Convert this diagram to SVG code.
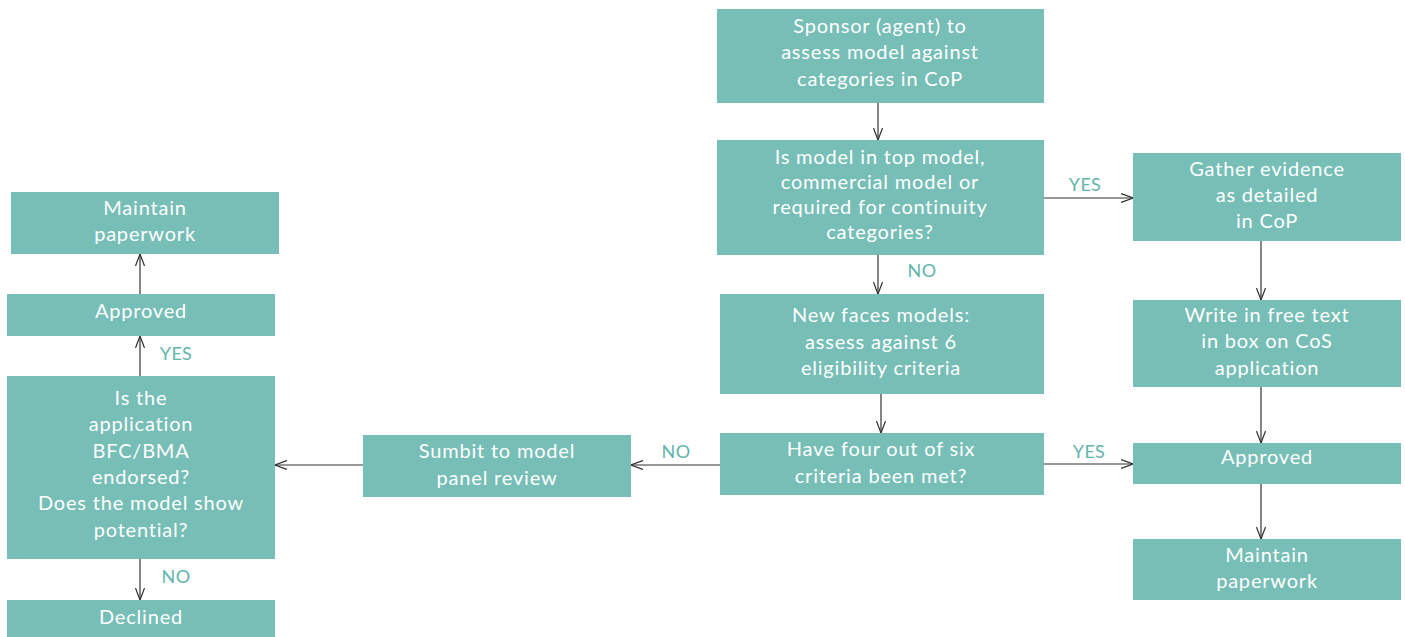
<svg xmlns="http://www.w3.org/2000/svg" width="1405" height="637" viewBox="0 0 1405 637">
<style>
.box{fill:#76beb6;}
.t{font-family:Lato,"Open Sans","Liberation Sans",sans-serif;font-size:20px;letter-spacing:0.8px;fill:#ffffff;text-anchor:middle;}
.lbl{font-family:Lato,"Open Sans","Liberation Sans",sans-serif;font-size:18px;letter-spacing:0.3px;fill:#62b5ab;text-anchor:middle;}
.c{stroke:#333333;stroke-width:1.2;fill:none;marker-end:url(#arr);}
</style>
<defs>
<marker id="arr" viewBox="0 0 12 10" refX="12" refY="5" markerWidth="12" markerHeight="10" markerUnits="userSpaceOnUse" orient="auto">
<path d="M0,0.5 L12,5 L0,9.5" fill="none" stroke="#333333" stroke-width="1.2"/>
</marker>
</defs>
<rect width="1405" height="637" fill="#ffffff"/>
<g id="connectors">
<line class="c" x1="878" y1="102" x2="878" y2="140"/>
<line class="c" x1="878" y1="254" x2="878" y2="294"/>
<line class="c" x1="1044" y1="198" x2="1133" y2="198"/>
<line class="c" x1="1261" y1="241" x2="1261" y2="300"/>
<line class="c" x1="1261" y1="387" x2="1261" y2="443"/>
<line class="c" x1="1261" y1="484" x2="1261" y2="539"/>
<line class="c" x1="881" y1="394" x2="881" y2="433"/>
<line class="c" x1="1044" y1="464" x2="1133" y2="464"/>
<line class="c" x1="720" y1="465" x2="631" y2="465"/>
<line class="c" x1="363" y1="465" x2="275" y2="465"/>
<line class="c" x1="140" y1="376" x2="140" y2="336"/>
<line class="c" x1="140" y1="294" x2="140" y2="254"/>
<line class="c" x1="140" y1="559" x2="140" y2="600"/>
<text class="lbl" x="922" y="277">NO</text>
<text class="lbl" x="1085" y="191">YES</text>
<text class="lbl" x="1089" y="458">YES</text>
<text class="lbl" x="676" y="458">NO</text>
<text class="lbl" x="176" y="360">YES</text>
<text class="lbl" x="176" y="583">NO</text>
</g>
<g id="sponsor">
<rect class="box" x="717" y="9" width="327" height="94"/>
<text class="t" x="880" y="33">Sponsor (agent) to</text>
<text class="t" x="880" y="59">assess model against</text>
<text class="t" x="880" y="86">categories in CoP</text>
</g>
<g id="is-model">
<rect class="box" x="717" y="140" width="327" height="115"/>
<text class="t" x="880" y="164">Is model in top model,</text>
<text class="t" x="880" y="189">commercial model or</text>
<text class="t" x="880" y="214">required for continuity</text>
<text class="t" x="880" y="239">categories?</text>
</g>
<g id="new-faces">
<rect class="box" x="720" y="294" width="324" height="100"/>
<text class="t" x="881" y="322">New faces models:</text>
<text class="t" x="881" y="349">assess against 6</text>
<text class="t" x="881" y="375">eligibility criteria</text>
</g>
<g id="have-four">
<rect class="box" x="720" y="433" width="324" height="62"/>
<text class="t" x="881" y="456">Have four out of six</text>
<text class="t" x="881" y="483">criteria been met?</text>
</g>
<g id="gather">
<rect class="box" x="1133" y="153" width="268" height="88"/>
<text class="t" x="1267" y="176">Gather evidence</text>
<text class="t" x="1267" y="202">as detailed</text>
<text class="t" x="1267" y="228">in CoP</text>
</g>
<g id="write">
<rect class="box" x="1133" y="300" width="268" height="87"/>
<text class="t" x="1267" y="322">Write in free text</text>
<text class="t" x="1267" y="348">in box on CoS</text>
<text class="t" x="1267" y="375">application</text>
</g>
<g id="approved-right">
<rect class="box" x="1133" y="443" width="268" height="41"/>
<text class="t" x="1267" y="464">Approved</text>
</g>
<g id="maintain-right">
<rect class="box" x="1133" y="539" width="268" height="61"/>
<text class="t" x="1267" y="562">Maintain</text>
<text class="t" x="1267" y="588">paperwork</text>
</g>
<g id="submit">
<rect class="box" x="363" y="435" width="268" height="62"/>
<text class="t" x="497" y="458">Sumbit to model</text>
<text class="t" x="497" y="485">panel review</text>
</g>
<g id="is-application">
<rect class="box" x="7" y="376" width="268" height="183"/>
<text class="t" x="141" y="405">Is the</text>
<text class="t" x="141" y="431">application</text>
<text class="t" x="141" y="458">BFC/BMA</text>
<text class="t" x="141" y="484">endorsed?</text>
<text class="t" x="141" y="510">Does the model show</text>
<text class="t" x="141" y="537">potential?</text>
</g>
<g id="approved-left">
<rect class="box" x="7" y="294" width="268" height="42"/>
<text class="t" x="141" y="318">Approved</text>
</g>
<g id="maintain-left">
<rect class="box" x="11" y="192" width="268" height="62"/>
<text class="t" x="145" y="215">Maintain</text>
<text class="t" x="145" y="241">paperwork</text>
</g>
<g id="declined">
<rect class="box" x="7" y="600" width="268" height="37"/>
<text class="t" x="141" y="624">Declined</text>
</g>
</svg>
